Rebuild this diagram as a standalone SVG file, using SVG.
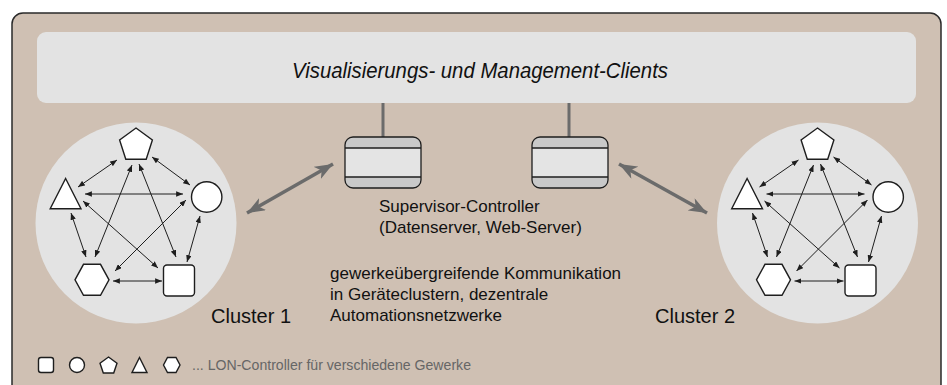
<svg xmlns="http://www.w3.org/2000/svg" width="947" height="385" viewBox="0 0 947 385">
  <style>
    .frame { fill: #cfc0b3; stroke: #2a2a2a; stroke-width: 1.5; }
    .panel { fill: #e3e3e3; }
    .shape { fill: #ffffff; stroke: #1e1e1e; stroke-width: 1.4; }
    .link { stroke: #1e1e1e; stroke-width: 1; fill: none; marker-start: url(#tip); marker-end: url(#tip); }
    .uplink { stroke: #6b6b6b; stroke-width: 3.5; fill: none; marker-start: url(#bigtip); marker-end: url(#bigtip); }
    .stem { stroke: #6b6b6b; stroke-width: 3; }
    .band { fill: #c9c9c9; }
    .box-outline { fill: none; stroke: #1e1e1e; stroke-width: 1.3; }
    .lbl { font-family: "Liberation Sans", Arial, sans-serif; fill: #111; }
  </style>
  <defs>
    <marker id="tip" viewBox="0 0 10 8" refX="10" refY="4" markerUnits="userSpaceOnUse" markerWidth="7" markerHeight="5.5" orient="auto-start-reverse">
      <path d="M0,0 L10,4 L0,8 z" fill="#1e1e1e"/>
    </marker>
    <marker id="bigtip" viewBox="0 0 18 14" refX="18" refY="7" markerUnits="userSpaceOnUse" markerWidth="18" markerHeight="14" orient="auto-start-reverse">
      <path d="M0,0 L18,7 L0,14 L5,7 z" fill="#6b6b6b"/>
    </marker>
  </defs>

  <!-- outer frame, runs past the bottom edge -->
  <rect class="frame" x="12" y="13" width="929" height="400" rx="11"/>

  <!-- top client bar -->
  <g id="clients">
    <rect class="panel" x="37" y="32" width="879" height="71" rx="9"/>
    <text class="lbl" x="480" y="78" font-size="21.5" font-style="italic" text-anchor="middle" textLength="376" lengthAdjust="spacingAndGlyphs">Visualisierungs- und Management-Clients</text>
  </g>

  <!-- supervisor controllers -->
  <g id="supervisor-1">
    <line class="stem" x1="383" y1="103" x2="383" y2="137"/>
    <rect x="345" y="137" width="76" height="51" rx="8" class="band"/>
    <rect x="345" y="148" width="76" height="29" fill="#e4e4e4"/>
    <line x1="345" y1="148" x2="421" y2="148" stroke="#1e1e1e" stroke-width="1.3"/>
    <line x1="345" y1="177" x2="421" y2="177" stroke="#1e1e1e" stroke-width="1.3"/>
    <rect class="box-outline" x="345" y="137" width="76" height="51" rx="8"/>
  </g>
  <g id="supervisor-2">
    <line class="stem" x1="569" y1="103" x2="569" y2="137"/>
    <rect x="532" y="137" width="76" height="51" rx="8" class="band"/>
    <rect x="532" y="148" width="76" height="29" fill="#e4e4e4"/>
    <line x1="532" y1="148" x2="608" y2="148" stroke="#1e1e1e" stroke-width="1.3"/>
    <line x1="532" y1="177" x2="608" y2="177" stroke="#1e1e1e" stroke-width="1.3"/>
    <rect class="box-outline" x="532" y="137" width="76" height="51" rx="8"/>
  </g>
  <g id="supervisor-label">
    <text class="lbl" x="379" y="212" font-size="17">Supervisor-Controller</text>
    <text class="lbl" x="379" y="233" font-size="17">(Datenserver, Web-Server)</text>
  </g>

  <!-- cluster 1 -->
  <g id="cluster-1">
    <circle class="panel" cx="136" cy="223" r="100.5"/>
    <g class="links">
      <line class="link" x1="117" y1="160" x2="78" y2="187"/>
      <line class="link" x1="152" y1="157" x2="190" y2="185"/>
      <line class="link" x1="85" y1="194" x2="183" y2="194"/>
      <line class="link" x1="71" y1="213" x2="86" y2="257"/>
      <line class="link" x1="83" y1="201" x2="158" y2="268"/>
      <line class="link" x1="132" y1="165" x2="95" y2="257"/>
      <line class="link" x1="139" y1="164" x2="176" y2="257"/>
      <line class="link" x1="186" y1="200" x2="115" y2="271"/>
      <line class="link" x1="200" y1="216" x2="187" y2="262"/>
      <line class="link" x1="113" y1="281" x2="162" y2="281"/>
    </g>
    <g id="c1-pentagon"><polygon class="shape" points="136,128 152.4,140 146.2,159.3 125.8,159.3 119.6,140"/></g>
    <g id="c1-triangle"><polygon class="shape" points="65.6,178.5 81,208.7 50.2,208.7"/></g>
    <g id="c1-circle"><circle class="shape" cx="206.7" cy="197" r="15.2"/></g>
    <g id="c1-hexagon"><polygon class="shape" points="83.5,264.3 100.5,264.3 109,279.8 100.5,295.3 83.5,295.3 75,279.8"/></g>
    <g id="c1-square"><rect class="shape" x="163.5" y="265" width="31" height="31" rx="3.5"/></g>
    <text class="lbl" x="211" y="323" font-size="20">Cluster 1</text>
  </g>

  <!-- cluster 2 -->
  <g id="cluster-2">
    <g transform="translate(681.5,0)">
      <circle class="panel" cx="136" cy="223" r="100.5"/>
      <g class="links">
        <line class="link" x1="117" y1="160" x2="78" y2="187"/>
        <line class="link" x1="152" y1="157" x2="190" y2="185"/>
        <line class="link" x1="85" y1="194" x2="183" y2="194"/>
        <line class="link" x1="71" y1="213" x2="86" y2="257"/>
        <line class="link" x1="83" y1="201" x2="158" y2="268"/>
        <line class="link" x1="132" y1="165" x2="95" y2="257"/>
        <line class="link" x1="139" y1="164" x2="176" y2="257"/>
        <line class="link" x1="186" y1="200" x2="115" y2="271"/>
        <line class="link" x1="200" y1="216" x2="187" y2="262"/>
        <line class="link" x1="113" y1="281" x2="162" y2="281"/>
      </g>
      <g id="c2-pentagon"><polygon class="shape" points="136,128 152.4,140 146.2,159.3 125.8,159.3 119.6,140"/></g>
      <g id="c2-triangle"><polygon class="shape" points="65.6,178.5 81,208.7 50.2,208.7"/></g>
      <g id="c2-circle"><circle class="shape" cx="206.7" cy="197" r="15.2"/></g>
      <g id="c2-hexagon"><polygon class="shape" points="83.5,264.3 100.5,264.3 109,279.8 100.5,295.3 83.5,295.3 75,279.8"/></g>
      <g id="c2-square"><rect class="shape" x="163.5" y="265" width="31" height="31" rx="3.5"/></g>
    </g>
    <text class="lbl" x="655" y="323" font-size="20">Cluster 2</text>
  </g>

  <!-- links between clusters and supervisors -->
  <g id="connectors">
    <line class="uplink" x1="247" y1="213" x2="333" y2="164"/>
    <line class="uplink" x1="619" y1="164" x2="707" y2="213"/>
  </g>

  <g id="network-note">
    <text class="lbl" x="330" y="279" font-size="17">gewerkeübergreifende Kommunikation</text>
    <text class="lbl" x="330" y="300" font-size="17">in Geräteclustern, dezentrale</text>
    <text class="lbl" x="330" y="321" font-size="17">Automationsnetzwerke</text>
  </g>

  <!-- legend -->
  <g id="legend">
    <rect class="shape" x="38.5" y="357.5" width="15" height="15" rx="2.5"/>
    <circle class="shape" cx="77" cy="365" r="7.5"/>
    <polygon class="shape" points="108.5,357 117,363.2 113.7,373 103.3,373 100,363.2"/>
    <polygon class="shape" points="139.5,357.5 147,372.5 132,372.5"/>
    <polygon class="shape" points="167.5,357.5 176,357.5 180,365 176,372.5 167.5,372.5 163.5,365"/>
    <text class="lbl" x="192" y="370" font-size="14.5" textLength="279" lengthAdjust="spacingAndGlyphs" style="fill:#666">... LON-Controller für verschiedene Gewerke</text>
  </g>
</svg>
